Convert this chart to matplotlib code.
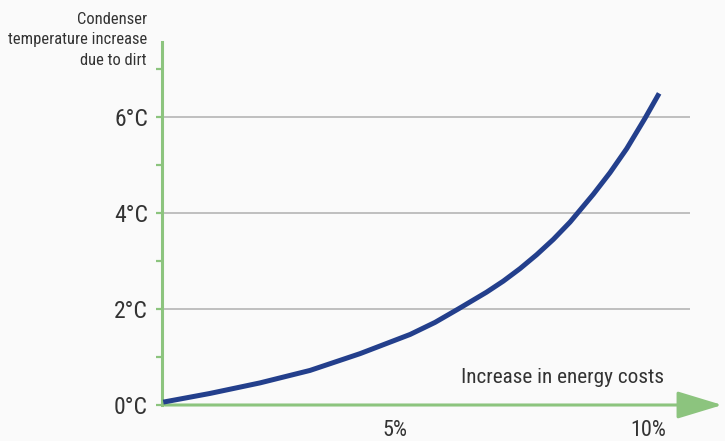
import matplotlib
matplotlib.use("Agg")
import matplotlib.pyplot as plt
from matplotlib.patches import FancyArrowPatch, ArrowStyle

# values (energy cost increase %, temperature increase degC)
cost_pct = [0.42, 1.34, 2.33, 3.32, 4.31, 5.30, 5.79, 6.25, 6.81, 7.14, 7.47,
            7.80, 8.13, 8.46, 8.92, 9.25, 9.58, 9.94, 10.22]
temp_rise = [0.06, 0.24, 0.46, 0.72, 1.07, 1.47, 1.72, 2.0, 2.35, 2.58, 2.84,
             3.13, 3.45, 3.81, 4.39, 4.84, 5.34, 5.97, 6.49]

y_major = [0, 2, 4, 6]
y_major_labels = ["0°C", "2°C", "4°C", "6°C"]
y_minor = [1, 3, 5, 7]
x_ticks = [5, 10]
x_tick_labels = ["5%", "10%"]

y_title = "Condenser\ntemperature increase\ndue to dirt"
x_title = "Increase in energy costs"

green = "#8cc47e"
navy = "#233f8c"
grid_col = "#b5b5b5"
txt = "#333333"
bg = "#fafafa"

fonts = ["Liberation Sans Narrow", "Roboto Condensed", "DejaVu Sans"]
plt.rcParams["font.family"] = fonts

W, H = 725, 441
fig = plt.figure(figsize=(W / 100, H / 100), dpi=100, facecolor=bg)
ax = fig.add_axes([162 / W, 36 / H, (690 - 162) / W, (405 - 42) / H])
ax.set_facecolor(bg)

ax.set_xlim(0.395, 10.83)
ax.set_ylim(0, 7.56)

# horizontal grid at major temps (skip zero, axis line sits there)
for v in y_major[1:]:
    ax.axhline(v, color=grid_col, lw=1.2, zorder=1)

ax.plot(cost_pct, temp_rise, color=navy, lw=3.6, solid_capstyle="butt",
        solid_joinstyle="round", zorder=3)

for s in ["top", "right", "bottom"]:
    ax.spines[s].set_visible(False)
ax.spines["left"].set_color(green)
ax.spines["left"].set_linewidth(2.2)

ax.set_yticks(y_major)
ax.set_yticklabels(y_major_labels)
ax.set_yticks(y_minor, minor=True)
ax.tick_params(axis="y", which="both", colors=green, length=4, width=1.6,
               direction="out", pad=6)
ax.tick_params(axis="y", which="major", labelsize=17, labelcolor=txt)

ax.set_xticks(x_ticks)
ax.set_xticklabels(x_tick_labels)
ax.tick_params(axis="x", length=0, pad=11, labelsize=16, labelcolor=txt)

# x axis drawn as a green arrow running past the plot area
arr = FancyArrowPatch((0, 0), (1 + 35 / 528, 0), transform=ax.transAxes,
                      arrowstyle=ArrowStyle("-|>", head_length=28, head_width=8.5),
                      mutation_scale=1, color=green, lw=2.2, clip_on=False, zorder=2)
ax.add_patch(arr)

ax.text(10.32, 0.58, x_title, ha="right", va="center", fontsize=15.3, color=txt)
fig.text(147 / W, 1 - 12 / H, y_title, ha="right", va="top", fontsize=11.9,
         color=txt, linespacing=1.45, multialignment="right")

fig.savefig("out.png", dpi=100, facecolor=bg)
